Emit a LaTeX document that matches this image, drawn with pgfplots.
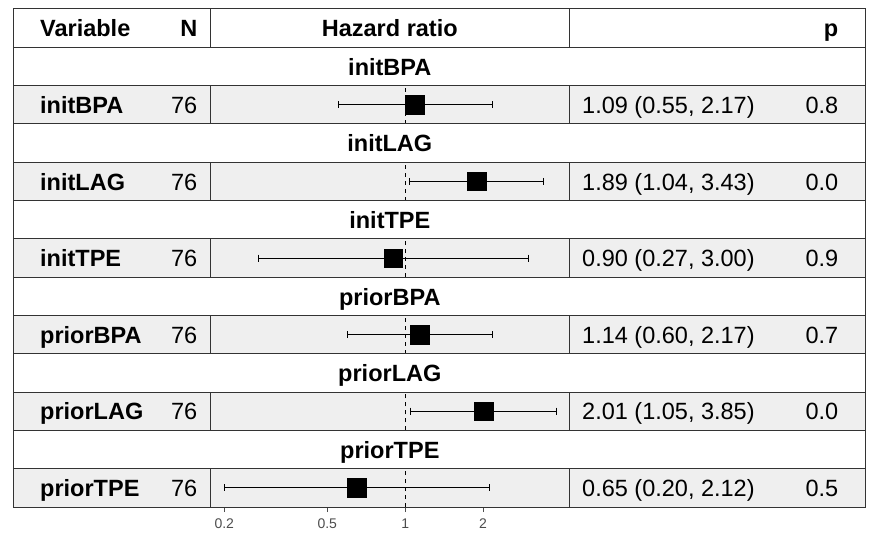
\documentclass[border=0pt]{standalone}
\usepackage{fontspec}
\setmainfont{Liberation Sans}
\usepackage{pgfplots}
\usepackage{pgfplotstable}
\pgfplotsset{compat=1.18}
\definecolor{rowgray}{HTML}{EFEFEF}
\definecolor{linegray}{HTML}{333333}
\definecolor{tickgray}{HTML}{4D4D4D}
\newcommand\ftxt{\fontsize{23.5bp}{28bp}\selectfont}
\pgfplotstableread{
y hr lo hi
10.5 1.09 0.55 2.17
8.5 1.89 1.04 3.43
6.5 0.90 0.27 3.00
4.5 1.14 0.60 2.17
2.5 2.01 1.05 3.85
0.5 0.65 0.20 2.12
}\hrdata
\begin{document}
\begin{tikzpicture}
\begin{scope}[x=1bp,y=-1bp]
\useasboundingbox (0,0) rectangle (875,540);
\foreach \r in {2,4,6,8,10,12} {
  \fill[rowgray] (13,{9+38.3*\r}) rectangle (865,{9+38.3*(\r+1)});
}
\end{scope}
\begin{axis}[
  at={(210.5bp,-507bp)}, anchor=south west,
  scale only axis, width=358.5bp, height=498bp,
  xmode=log, xmin=0.1769, xmax=4.295, ymin=0, ymax=13,
  axis line style={draw=none},
  ytick=\empty,
  xtick={0.2,0.5,1,2}, xticklabels={0.2,0.5,1,2},
  xtick pos=bottom, tick align=outside, major tick length=5bp,
  x tick style={draw=tickgray, line width=0.8bp},
  x tick label style={font=\fontsize{14bp}{16bp}\selectfont, text=tickgray, inner sep=0pt, anchor=north, yshift=-7bp},
  clip=false,
]
\addplot[black, dash pattern=on 4bp off 4bp, line width=0.8bp, unbounded coords=jump] coordinates {
 (1,10) (1,11) (1,nan) (1,8) (1,9) (1,nan) (1,6) (1,7) (1,nan)
 (1,4) (1,5) (1,nan) (1,2) (1,3) (1,nan) (1,0) (1,1)};
\addplot[black, line width=0.8bp, mark=|, mark size=3.5bp] coordinates {(0.55,10.5) (2.17,10.5)};
\addplot[black, line width=0.8bp, mark=|, mark size=3.5bp] coordinates {(1.04,8.5) (3.43,8.5)};
\addplot[black, line width=0.8bp, mark=|, mark size=3.5bp] coordinates {(0.27,6.5) (3.00,6.5)};
\addplot[black, line width=0.8bp, mark=|, mark size=3.5bp] coordinates {(0.60,4.5) (2.17,4.5)};
\addplot[black, line width=0.8bp, mark=|, mark size=3.5bp] coordinates {(1.05,2.5) (3.85,2.5)};
\addplot[black, line width=0.8bp, mark=|, mark size=3.5bp] coordinates {(0.20,0.5) (2.12,0.5)};
\addplot[only marks, mark=square*, mark size=9.3bp, mark options={fill=black, draw=black, line width=0.4bp}] table[x=hr, y=y] {\hrdata};
\end{axis}
\begin{scope}[x=1bp,y=-1bp]
\draw[linegray, line width=1bp] (13,9) rectangle (865,507);
\foreach \k in {1,...,12} { \draw[linegray, line width=1bp] (13,{9+38.3*\k}) -- (865,{9+38.3*\k}); }
\foreach \r in {0,2,4,6,8,10,12} {
  \draw[linegray, line width=1bp] (210.5,{9+38.3*\r}) -- (210.5,{9+38.3*(\r+1)});
  \draw[linegray, line width=1bp] (569,{9+38.3*\r}) -- (569,{9+38.3*(\r+1)});
}
\tikzset{every node/.style={inner sep=0pt, font=\ftxt}}
\node[anchor=base west] at (40,36.2) {\bfseries Variable};
\node[anchor=base east] at (197.5,36.2) {\bfseries N};
\node[anchor=base] at (389.8,36.2) {\bfseries Hazard ratio};
\node[anchor=base east] at (838.5,36.2) {\bfseries p};
\foreach \g/\nm/\ci/\p in {0/initBPA/{1.09 (0.55, 2.17)}/0.8, 1/initLAG/{1.89 (1.04, 3.43)}/0.0, 2/initTPE/{0.90 (0.27, 3.00)}/0.9, 3/priorBPA/{1.14 (0.60, 2.17)}/0.7, 4/priorLAG/{2.01 (1.05, 3.85)}/0.0, 5/priorTPE/{0.65 (0.20, 2.12)}/0.5} {
  \node[anchor=base] at (389.8,{66.45+76.6*\g+8.8}) {\bfseries \nm};
  \node[anchor=base west] at (40,{104.75+76.6*\g+8.8}) {\bfseries \nm};
  \node[anchor=base east] at (197.5,{104.75+76.6*\g+8.8}) {76};
  \node[anchor=base west] at (582,{104.75+76.6*\g+8.8}) {\ci};
  \node[anchor=base east] at (838.5,{104.75+76.6*\g+8.8}) {\p};
}
\end{scope}
\end{tikzpicture}
\end{document}
